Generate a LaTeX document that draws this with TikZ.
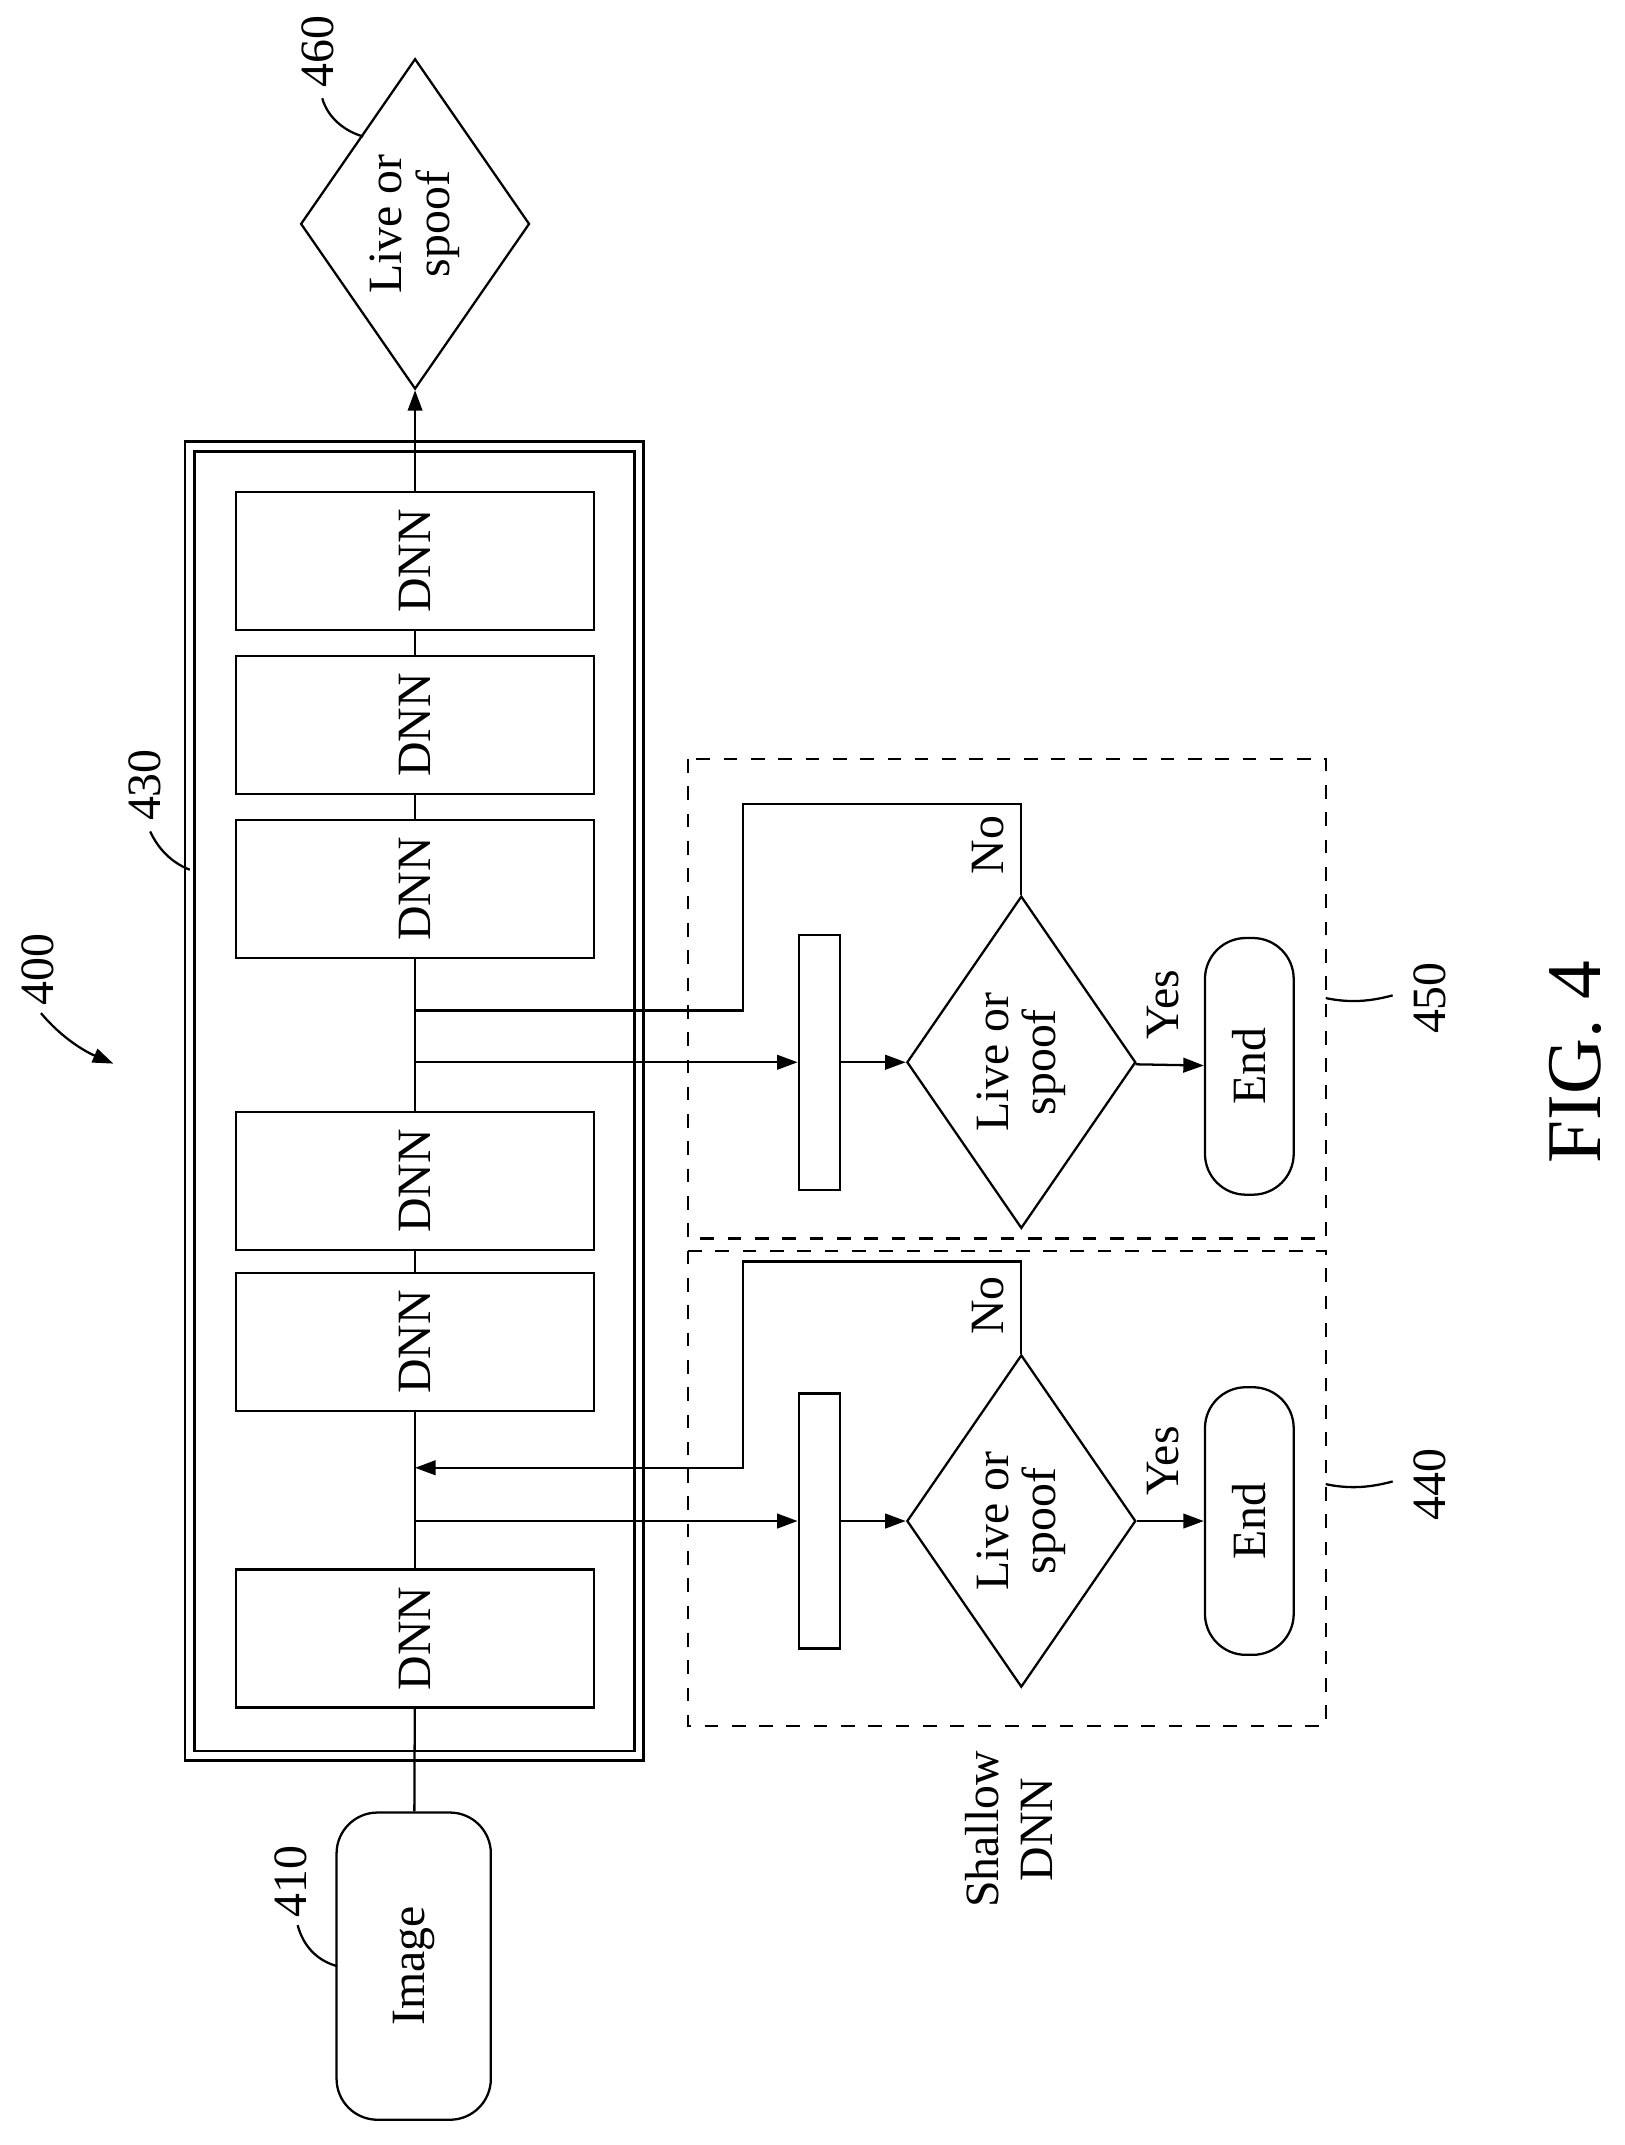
\documentclass[tikz,border=0pt]{standalone}
\usepackage{fontspec}
\setmainfont{Liberation Serif}
\usetikzlibrary{shapes.geometric,arrows.meta}

\tikzset{every picture/.style={line width=0.5pt}}
\tikzset{
  every node/.style={font=\fontsize{10.5}{12}\selectfont},
  dnn/.style={draw,minimum width=78.6pt,minimum height=30.3pt,inner sep=0pt},
  decide/.style={draw,diamond,inner sep=0pt,align=center},
  term/.style={draw,rounded corners=9pt,inner sep=0pt},
  bar/.style={draw,minimum width=9pt,minimum height=56pt,inner sep=0pt},
  arr/.style={-{Triangle[length=4.5pt,width=3.2pt]}},
  lbl/.style={rotate=90,inner sep=0.75pt},
}

\begin{document}
\begin{tikzpicture}[x=0.3pt,y=0.3pt,yscale=-1,xscale=1]
\useasboundingbox (0,0) rectangle (1190,1571);

%Shape: Double box [id:430]
\draw [double,double distance=1.5pt,line width=0.6pt] (139,327) rectangle (468,1286);
%Shape: Dashed boxes [id:440, 450]
\draw [dashed] (504,556) rectangle (971,907);
\draw [dashed] (504,916) rectangle (971,1264);

% Nodes
\node [term,minimum width=33.9pt,minimum height=67.5pt] (img) at (303,1440) {\rotatebox{90}{Image}};
\node [dnn] (dnn1) at (304,1200) {\rotatebox{90}{DNN}};
\node [dnn] (dnn2) at (304,983) {\rotatebox{90}{DNN}};
\node [dnn] (dnn3) at (304,865) {\rotatebox{90}{DNN}};
\node [dnn] (dnn4) at (304,651) {\rotatebox{90}{DNN}};
\node [dnn] (dnn5) at (304,531) {\rotatebox{90}{DNN}};
\node [dnn] (dnn6) at (304,411) {\rotatebox{90}{DNN}};
\node [decide,minimum width=45.9pt,minimum height=72.6pt] (out) at (304,164) {\rotatebox{90}{\shortstack{Live or\\spoof}}};

\node [bar] (bar450) at (600,778) {};
\node [decide,minimum width=45.3pt,minimum height=73pt] (dec450) at (748,778) {\rotatebox{90}{\shortstack{Live or\\spoof}}};
\node [term,minimum width=19.5pt,minimum height=56.4pt] (end450) at (915,781) {\rotatebox{90}{End}};
\node [bar] (bar440) at (600,1114) {};
\node [decide,minimum width=45.3pt,minimum height=73pt] (dec440) at (748,1114) {\rotatebox{90}{\shortstack{Live or\\spoof}}};
\node [term,minimum width=19.5pt,minimum height=58.8pt] (end440) at (915,1114) {\rotatebox{90}{End}};

\coordinate (br450) at (304,778);
\coordinate (jn450) at (304,740);
\coordinate (up450) at (544,589);
\coordinate (br440) at (304,1114);
\coordinate (jn440) at (304,1075);
\coordinate (up440) at (544,924);

%Straight Lines: main flow
\draw (img) -- (dnn1);
\draw (dnn1) -- (dnn2);
\draw (dnn2) -- (dnn3);
\draw (dnn3) -- (dnn4);
\draw (dnn4) -- (dnn5);
\draw (dnn5) -- (dnn6);
\draw [arr] (dnn6) -- (out);

%Straight Lines: shallow 450
\draw [arr] (br450) -- (bar450);
\draw [arr] (bar450) -- (dec450);
\draw [arr] (dec450) -- (end450);
\draw (dec450.north) |- (up450) |- (jn450);
%Straight Lines: shallow 440
\draw [arr] (br440) -- (bar440);
\draw [arr] (bar440) -- (dec440);
\draw [arr] (dec440) -- (end440);
\draw [arr] (dec440.north) |- (up440) |- (jn440);

% Text Node
\node [lbl] (yes450) at (852,736) {Yes};
\node [lbl] (no450) at (724,619) {No};
\node [lbl] (yes440) at (852,1070) {Yes};
\node [lbl] (no440) at (724,956) {No};
\node [lbl,align=center] (shallow) at (739,1340) {Shallow\\DNN};
\node [rotate=90,font=\fontsize{17}{20}\selectfont] (fig) at (1154,778) {FIG. 4};

% Reference numerals
\node [lbl] (n400) at (28,710) {400};
\draw [arr] (30,742) .. controls (45,760) and (62,770) .. (83,779);
\node [lbl] (n410) at (213,1378) {410};
\draw (218,1410) .. controls (222,1425) and (232,1436) .. (247,1440);
\node [lbl] (n430) at (106,575) {430};
\draw (110,609) .. controls (116,622) and (126,632) .. (139,637);
\node [lbl] (n460) at (233,38) {460};
\draw (236,72) .. controls (240,86) and (252,96) .. (266,100);
\node [lbl] (n450) at (1047,731) {450};
\draw (971,731) .. controls (990,735) and (1005,733) .. (1020,729);
\node [lbl] (n440) at (1047,1087) {440};
\draw (971,1087) .. controls (990,1091) and (1005,1089) .. (1020,1085);

\end{tikzpicture}
\end{document}
